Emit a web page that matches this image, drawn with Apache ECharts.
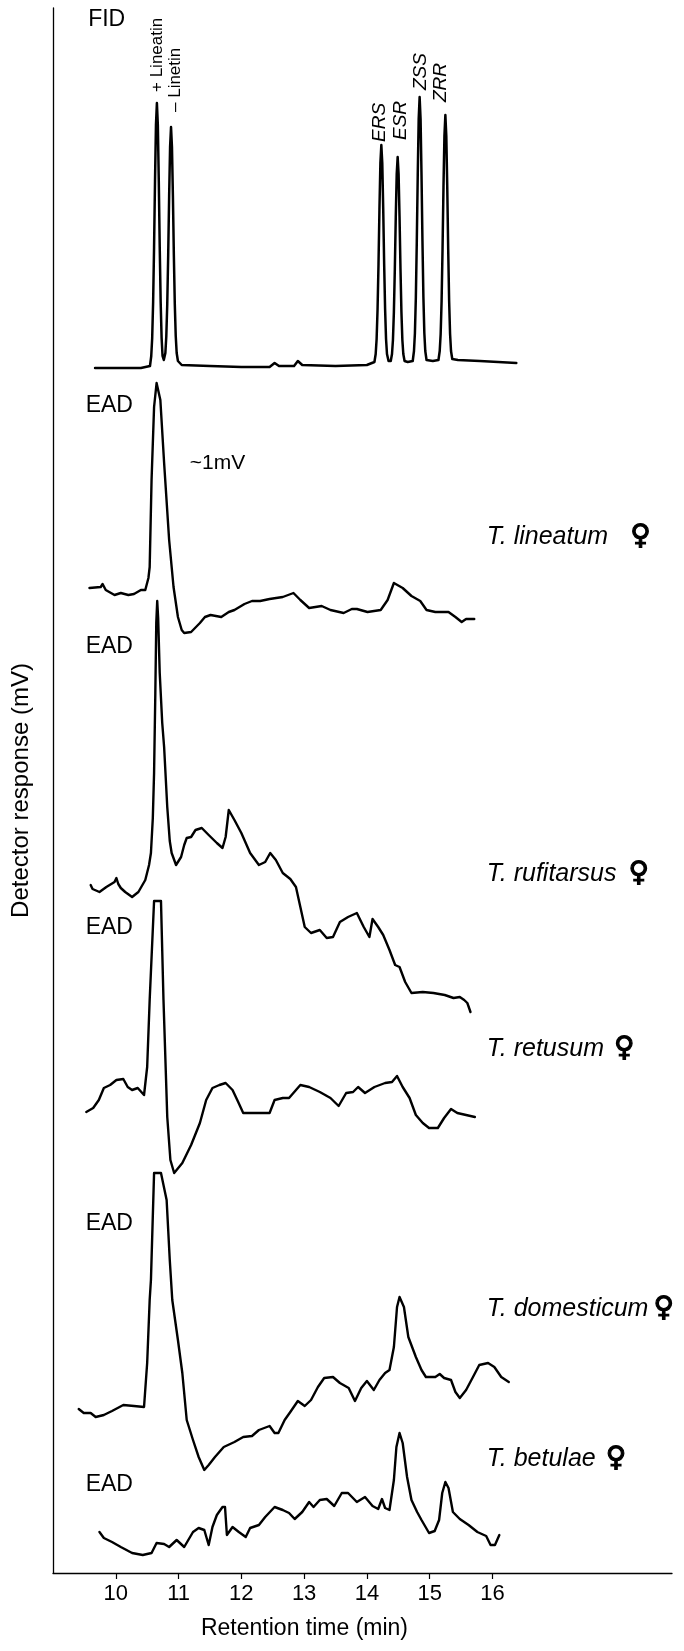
<!DOCTYPE html>
<html>
<head>
<meta charset="utf-8">
<script src="https://cdn.jsdelivr.net/npm/echarts@6/dist/echarts.min.js"></script>
<style>
html,body{margin:0;padding:0;background:#fff;}
#chart{width:684px;height:1651px;}
</style>
</head>
<body>
<div id="chart"></div>
<script>
// ---- data (retention time in min, response in arbitrary offset units) ----
const fid = [[9.67,120.5],[10.0,120.5],[10.40,120.5],[10.545,120.7],[10.565,121.7],[10.58,123.5],[10.595,127.1],[10.61,132.6],[10.625,139.2],[10.64,144.8],[10.655,147.0],[10.67,144.8],[10.685,139.2],[10.70,132.6],[10.715,127.1],[10.73,123.5],[10.745,121.7],[10.765,121.3],[10.79,122.0],[10.805,123.7],[10.82,126.9],[10.835,131.8],[10.85,137.7],[10.865,142.6],[10.88,144.6],[10.895,142.6],[10.91,137.7],[10.925,131.8],[10.94,126.9],[10.955,123.7],[10.97,122.0],[10.99,121.2],[11.05,120.8],[11.5,120.7],[12.0,120.6],[12.45,120.6],[12.53,121.0],[12.60,120.7],[12.84,120.7],[12.90,121.2],[12.97,120.8],[13.5,120.7],[14.0,120.8],[14.12,121.1],[14.14,121.9],[14.155,123.4],[14.17,126.4],[14.185,130.9],[14.20,136.4],[14.215,141.0],[14.23,142.8],[14.245,141.0],[14.26,136.4],[14.275,130.9],[14.29,126.4],[14.305,123.4],[14.32,121.9],[14.345,121.2],[14.36,121.1],[14.38,121.2],[14.40,121.9],[14.415,123.3],[14.43,126.1],[14.445,130.4],[14.46,135.6],[14.475,139.9],[14.49,141.6],[14.505,139.9],[14.52,135.6],[14.535,130.4],[14.55,126.1],[14.565,123.3],[14.58,121.9],[14.60,121.2],[14.65,121.1],[14.73,121.2],[14.75,122.2],[14.765,124.0],[14.78,127.6],[14.795,133.2],[14.81,139.8],[14.825,145.4],[14.84,147.6],[14.855,145.4],[14.87,139.8],[14.885,133.2],[14.90,127.6],[14.915,124.0],[14.93,122.2],[14.95,121.3],[15.05,121.2],[15.14,121.3],[15.16,122.2],[15.175,123.9],[15.19,127.2],[15.205,132.4],[15.22,138.6],[15.235,143.7],[15.25,145.8],[15.265,143.7],[15.28,138.6],[15.295,132.4],[15.31,127.2],[15.325,123.9],[15.34,122.2],[15.36,121.4],[15.45,121.3],[15.8,121.2],[16.38,121.0]];

const eadLineatum = [[9.58,98.5],[9.76,98.6],[9.79,98.9],[9.84,98.3],[9.98,97.8],[10.08,98.0],[10.20,97.8],[10.29,97.9],[10.40,98.3],[10.47,98.3],[10.52,99.5],[10.54,100.6],[10.57,109.3],[10.61,116.6],[10.65,119.0],[10.71,117.3],[10.77,111.0],[10.85,103.3],[10.92,98.6],[10.99,95.6],[11.05,94.3],[11.09,94.0],[11.20,94.1],[11.34,95.0],[11.42,95.6],[11.51,95.8],[11.68,95.6],[11.80,96.1],[11.89,96.3],[12.05,96.9],[12.17,97.2],[12.30,97.2],[12.45,97.4],[12.66,97.6],[12.83,98.0],[12.94,97.3],[13.08,96.5],[13.28,96.7],[13.42,96.3],[13.63,96.0],[13.76,96.4],[13.84,96.4],[14.01,96.1],[14.22,96.3],[14.33,97.3],[14.43,99.0],[14.57,98.5],[14.71,97.7],[14.85,97.2],[14.95,96.3],[15.09,96.1],[15.30,96.1],[15.41,95.6],[15.51,95.1],[15.58,95.4],[15.71,95.4]];

const eadRufitarsus = [[9.60,68.8],[9.63,68.4],[9.74,68.1],[9.85,68.6],[9.98,69.1],[10.01,69.5],[10.04,68.9],[10.08,68.5],[10.15,68.1],[10.26,67.6],[10.36,68.1],[10.47,69.3],[10.53,70.8],[10.56,72.0],[10.59,75.5],[10.61,80.0],[10.63,88.0],[10.645,95.0],[10.66,97.2],[10.675,95.5],[10.70,90.0],[10.74,85.0],[10.77,82.6],[10.82,76.6],[10.86,73.2],[10.89,72.0],[10.96,70.8],[11.04,71.6],[11.09,72.8],[11.13,73.5],[11.20,73.6],[11.27,74.3],[11.37,74.5],[11.48,73.8],[11.61,73.0],[11.70,72.5],[11.75,73.6],[11.80,76.3],[11.89,75.3],[12.00,74.0],[12.14,72.0],[12.28,70.8],[12.38,71.1],[12.46,72.0],[12.55,71.3],[12.66,70.0],[12.78,69.4],[12.87,68.6],[12.94,66.6],[13.01,64.6],[13.11,64.0],[13.25,64.3],[13.36,63.5],[13.46,63.6],[13.57,65.1],[13.70,65.6],[13.84,66.0],[13.95,64.6],[14.04,63.6],[14.09,65.4],[14.18,64.6],[14.26,63.8],[14.36,62.3],[14.45,60.8],[14.52,60.6],[14.61,59.1],[14.71,58.0],[14.89,58.1],[15.06,58.0],[15.24,57.8],[15.38,57.5],[15.48,57.6],[15.55,57.3],[15.60,57.0],[15.65,56.1]];

const eadRetusum = [[9.53,46.1],[9.64,46.5],[9.73,47.3],[9.81,48.5],[9.91,48.8],[10.01,49.3],[10.12,49.4],[10.19,48.6],[10.26,48.3],[10.35,48.5],[10.45,47.8],[10.50,50.6],[10.54,57.3],[10.61,67.2],[10.72,67.2],[10.76,57.3],[10.82,45.6],[10.87,41.3],[10.93,40.0],[11.06,41.0],[11.20,42.8],[11.34,45.0],[11.44,47.3],[11.54,48.5],[11.65,48.8],[11.75,49.0],[11.86,48.3],[11.95,47.1],[12.03,46.0],[12.17,46.0],[12.31,46.0],[12.45,46.0],[12.53,47.3],[12.66,47.5],[12.76,47.5],[12.94,48.8],[13.08,48.6],[13.25,48.1],[13.42,47.5],[13.55,46.7],[13.67,48.0],[13.78,48.1],[13.86,48.6],[13.97,48.0],[14.12,48.6],[14.29,49.0],[14.40,49.1],[14.48,49.7],[14.57,48.6],[14.68,47.5],[14.78,45.8],[14.89,45.0],[14.99,44.5],[15.13,44.5],[15.23,45.5],[15.34,46.4],[15.44,46.0],[15.58,45.8],[15.72,45.6]];

const eadDomesticum = [[9.41,16.4],[9.49,16.0],[9.60,16.0],[9.68,15.6],[9.81,15.8],[9.94,16.2],[10.12,16.8],[10.29,16.7],[10.45,16.6],[10.50,21.0],[10.54,27.3],[10.56,29.3],[10.61,40.0],[10.72,40.0],[10.81,37.3],[10.86,31.3],[10.90,27.3],[10.99,23.3],[11.06,20.0],[11.13,15.3],[11.23,13.3],[11.32,11.6],[11.41,10.3],[11.48,10.8],[11.58,11.6],[11.72,12.6],[11.89,13.1],[12.03,13.6],[12.17,13.7],[12.28,14.3],[12.45,14.7],[12.53,14.0],[12.59,14.0],[12.69,15.3],[12.78,16.1],[12.90,17.2],[13.01,16.7],[13.11,17.3],[13.22,18.6],[13.32,19.5],[13.46,19.6],[13.57,19.0],[13.71,18.5],[13.81,17.2],[13.91,18.5],[14.00,19.2],[14.11,18.3],[14.20,19.3],[14.29,20.0],[14.36,20.3],[14.43,22.6],[14.48,26.6],[14.52,27.6],[14.59,26.6],[14.66,23.6],[14.78,21.6],[14.87,20.3],[14.94,19.6],[15.09,19.6],[15.16,19.9],[15.23,19.5],[15.34,19.3],[15.41,18.1],[15.48,17.5],[15.58,18.3],[15.69,19.6],[15.79,20.8],[15.93,21.0],[16.03,20.6],[16.14,19.6],[16.26,19.1]];

const eadBetulae = [[9.74,4.1],[9.81,3.5],[9.94,3.1],[10.08,2.6],[10.26,2.0],[10.43,1.8],[10.57,2.0],[10.65,3.0],[10.77,2.9],[10.85,2.6],[10.97,3.3],[11.09,2.6],[11.23,4.1],[11.32,4.5],[11.41,4.3],[11.48,2.8],[11.54,4.6],[11.61,5.8],[11.70,6.6],[11.74,6.6],[11.77,3.8],[11.86,4.6],[11.96,4.1],[12.07,3.6],[12.14,4.5],[12.28,4.8],[12.38,5.6],[12.53,6.6],[12.66,6.3],[12.76,6.0],[12.85,5.4],[12.97,6.1],[13.08,7.1],[13.15,6.6],[13.25,7.3],[13.36,7.4],[13.48,6.7],[13.60,8.0],[13.70,8.0],[13.84,7.1],[13.97,7.6],[14.09,6.7],[14.18,6.4],[14.24,7.4],[14.29,6.5],[14.36,6.3],[14.43,9.3],[14.47,12.6],[14.52,14.0],[14.57,13.0],[14.64,9.6],[14.71,7.3],[14.80,6.1],[14.87,5.3],[14.99,4.0],[15.08,4.2],[15.15,5.3],[15.20,8.0],[15.25,9.1],[15.30,8.5],[15.37,6.1],[15.48,5.4],[15.62,4.8],[15.76,4.1],[15.90,3.7],[15.97,2.8],[16.04,2.8],[16.11,3.8]];

const traces = [fid, eadLineatum, eadRufitarsus, eadRetusum, eadDomesticum, eadBetulae];

// tick labels of the time axis
const timeTicks = [10, 11, 12, 13, 14, 15, 16];

// compound labels above the FID peaks, and where they sit (time, response)
const peakNames = ['+ Lineatin', '\u2013 Linetin', 'ERS', 'ESR', 'ZSS', 'ZRR'];
const peakItalic = [false, false, true, true, true, true];
const peakLabelAt = [[10.664,148.1],[10.943,146.1],[14.207,143.1],[14.541,143.3],[14.86,148.3],[15.178,147.1]];

// trace labels on the left
const traceNames = ['FID', 'EAD', 'EAD', 'EAD', 'EAD', 'EAD', '~1mV'];
const traceLabelAt = [[9.56,155.3],[9.52,116.7],[9.52,92.65],[9.52,64.5],[9.52,34.95],[9.52,8.8],[11.18,110.95]];

// species names on the right
const species = ['T. lineatum', 'T. rufitarsus', 'T. retusum', 'T. domesticum', 'T. betulae'];
const speciesGap = [22, 12, 10, 5, 10];
const speciesLabelAt = [[15.91,103.6],[15.91,69.9],[15.91,52.4],[15.91,26.4],[15.91,11.4]];

// ---- chart ----
const FONT = '"Liberation Sans", Arial, Helvetica, sans-serif';
const chart = echarts.init(document.getElementById('chart'), null, {renderer: 'canvas'});

const lineSeries = traces.map(function (d, i) {
  return {
    type: 'line',
    data: d,
    showSymbol: false,
    symbol: 'none',
    smooth: false,
    lineStyle: {color: '#000', width: i === 0 ? 2.5 : 2.4, join: 'round', cap: 'round', opacity: 1},
    silent: true,
    z: 3
  };
});

function labelSeries(items) {
  return {
    type: 'scatter',
    symbolSize: 0,
    silent: true,
    itemStyle: {opacity: 1, color: '#000'},
    data: items
  };
}

const peakLabelSeries = labelSeries(peakNames.map(function (n, i) {
  return {
    value: peakLabelAt[i],
    label: {
      show: true,
      formatter: n,
      position: 'inside',
      rotate: 90,
      align: 'left',
      verticalAlign: 'middle',
      fontFamily: FONT,
      fontStyle: peakItalic[i] ? 'italic' : 'normal',
      fontSize: peakItalic[i] ? 19 : 17,
      color: '#000',
      opacity: 1,
      textBorderWidth: 0
    }
  };
}));

const traceLabelSeries = labelSeries(traceNames.map(function (n, i) {
  return {
    value: traceLabelAt[i],
    label: {
      show: true,
      formatter: n,
      position: 'inside',
      align: 'left',
      verticalAlign: 'middle',
      fontFamily: FONT,
      fontSize: n === '~1mV' ? 21 : 23,
      color: '#000',
      opacity: 1,
      textBorderWidth: 0
    }
  };
}));

const speciesSeries = labelSeries(species.map(function (n, i) {
  return {
    value: speciesLabelAt[i],
    label: {
      show: true,
      formatter: '{n|' + n + '}{f|\u2640}',
      position: 'inside',
      align: 'left',
      verticalAlign: 'middle',
      color: '#000',
      opacity: 1,
      textBorderWidth: 0,
      rich: {
        n: {fontFamily: FONT, fontStyle: 'italic', fontSize: 25, color: '#000'},
        f: {fontFamily: '"DejaVu Sans", sans-serif', fontWeight: 'bold', fontSize: 28, color: '#000',
            textBorderColor: '#000', textBorderWidth: 1.2, padding: [0, 0, 0, speciesGap[i]]}
      }
    }
  };
}));

chart.setOption({
  animation: false,
  backgroundColor: '#fff',
  grid: {left: 53, right: 12, top: 8, bottom: 78, containLabel: false},
  xAxis: {
    type: 'value',
    min: 9,
    max: 18.86,
    name: 'Retention time (min)',
    nameLocation: 'middle',
    nameGap: 44,
    nameTextStyle: {fontFamily: FONT, fontSize: 23, color: '#000', padding: [0, 116, 0, 0]},
    axisLine: {show: true, onZero: false, lineStyle: {color: '#000', width: 1.3}},
    axisTick: {show: true, customValues: timeTicks, length: 6, inside: false, lineStyle: {color: '#000', width: 1.2}},
    axisLabel: {show: true, customValues: timeTicks, fontFamily: FONT, fontSize: 22, color: '#000', margin: 10},
    splitLine: {show: false}
  },
  yAxis: {
    type: 'value',
    min: 0,
    max: 156.5,
    name: 'Detector response (mV)',
    nameLocation: 'middle',
    nameGap: 20,
    nameTextStyle: {fontFamily: FONT, fontSize: 24, color: '#000'},
    axisLine: {show: true, onZero: false, lineStyle: {color: '#000', width: 1.3}},
    axisTick: {show: false},
    axisLabel: {show: false},
    splitLine: {show: false}
  },
  series: lineSeries.concat([peakLabelSeries, traceLabelSeries, speciesSeries])
});
</script>
</body>
</html>
